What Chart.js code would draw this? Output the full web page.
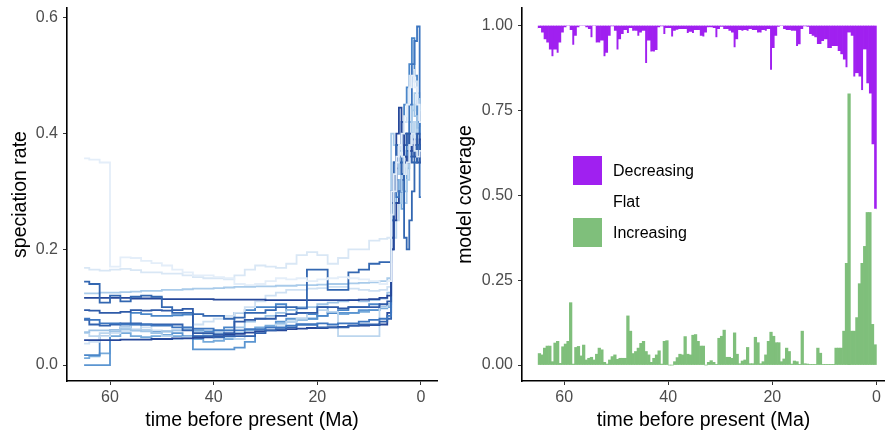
<!DOCTYPE html>
<html lang="en">
<head>
<meta charset="UTF-8">
<title>Speciation rate and model coverage</title>
<script src="https://cdn.jsdelivr.net/npm/chart.js"></script>
<style>
    body { margin: 0; background: #fff; }
    .painel { position: absolute; top: 0; }
    #legend {
        position: absolute; left: 573px; top: 155px;
        font-family: "Liberation Sans", Arial, Helvetica, sans-serif;
        font-size: 16px; color: #000;
    }
    #legend .item { height: 31px; display: flex; align-items: center; }
    #legend .box { width: 29px; height: 29px; margin-right: 11px; }
</style>
</head>
<body>
    <div class="painel" style="left:0px"><canvas id="rateChart" width="440" height="433"></canvas></div>
    <div class="painel" style="left:440px"><canvas id="coverageChart" width="445" height="433"></canvas></div>
    <div id="legend">
        <div class="item"><span class="box" style="background:#a020f0"></span>Decreasing</div>
        <div class="item"><span class="box" style="background:#ffffff"></span>Flat</div>
        <div class="item"><span class="box" style="background:#7fbf7b"></span>Increasing</div>
    </div>

<script>
    // ---- left panel: speciation rate through time (one line per posterior sample)
    const timeGrid = [65, 63, 61, 59, 57, 55, 53, 51, 49, 47, 45, 43, 41, 39, 37, 35, 33, 31, 29, 27,
        25, 23, 21, 19, 17, 15, 13, 11, 9, 7, 6, 5.5, 5, 4.5, 4, 3.5, 3, 2.5, 2, 1.5, 1, 0.5, 0];

    const rate01 = [0.357, 0.355, 0.35, 0.17, 0.186, 0.185, 0.18, 0.176, 0.172, 0.165, 0.16, 0.155, 0.155, 0.152, 0.15, 0.14, 0.138, 0.14, 0.145, 0.15,
        0.148, 0.15, 0.145, 0.148, 0.15, 0.152, 0.15, 0.148, 0.145, 0.14, 0.145, 0.3, 0.33, 0.36, 0.38, 0.4, 0.43, 0.45, 0.48, 0.5, 0.48, 0.45, 0.42];
    const rate02 = [0.168, 0.165, 0.163, 0.165, 0.166, 0.164, 0.16, 0.16, 0.158, 0.158, 0.155, 0.152, 0.15, 0.15, 0.148, 0.155, 0.165, 0.172, 0.17, 0.168,
        0.175, 0.19, 0.195, 0.19, 0.175, 0.185, 0.2, 0.2, 0.215, 0.218, 0.22, 0.26, 0.3, 0.35, 0.38, 0.36, 0.33, 0.35, 0.38, 0.4, 0.37, 0.36, 0.37];
    const rate03 = [0.144, 0.14, 0.108, 0.12, 0.11, 0.118, 0.12, 0.118, 0.1, 0.09, 0.09, 0.088, 0.085, 0.085, 0.08, 0.082, 0.09, 0.09, 0.095, 0.1,
        0.1, 0.098, 0.165, 0.165, 0.13, 0.13, 0.16, 0.165, 0.175, 0.178, 0.178, 0.3, 0.35, 0.38, 0.36, 0.33, 0.22, 0.2, 0.25, 0.3, 0.35, 0.38, 0.37];
    const rate04 = [0.116, 0.116, 0.116, 0.116, 0.116, 0.115, 0.115, 0.115, 0.114, 0.114, 0.114, 0.114, 0.114, 0.113, 0.113, 0.113, 0.113, 0.113, 0.112, 0.112,
        0.112, 0.112, 0.112, 0.112, 0.112, 0.112, 0.112, 0.113, 0.114, 0.116, 0.12, 0.2, 0.3, 0.4, 0.445, 0.4, 0.36, 0.35, 0.37, 0.38, 0.38, 0.36, 0.39];
    const rate05 = [0.124, 0.124, 0.125, 0.125, 0.126, 0.127, 0.128, 0.128, 0.13, 0.13, 0.131, 0.132, 0.132, 0.133, 0.134, 0.135, 0.135, 0.136, 0.136, 0.137,
        0.137, 0.138, 0.138, 0.139, 0.14, 0.14, 0.141, 0.142, 0.143, 0.145, 0.15, 0.4, 0.38, 0.35, 0.33, 0.3, 0.28, 0.32, 0.38, 0.44, 0.47, 0.46, 0.44];
    const rate06 = [0.095, 0.094, 0.09, 0.09, 0.092, 0.095, 0.094, 0.095, 0.094, 0.095, 0.097, 0.055, 0.055, 0.053, 0.055, 0.075, 0.078, 0.08, 0.08, 0.085,
        0.088, 0.09, 0.09, 0.1, 0.1, 0.098, 0.1, 0.1, 0.1, 0.105, 0.11, 0.28, 0.33, 0.36, 0.35, 0.33, 0.38, 0.4, 0.37, 0.36, 0.38, 0.4, 0.35];
    const rate07 = [0.08, 0.078, 0.072, 0.072, 0.07, 0.07, 0.07, 0.068, 0.068, 0.065, 0.065, 0.063, 0.063, 0.06, 0.06, 0.06, 0.062, 0.062, 0.065, 0.065,
        0.068, 0.07, 0.07, 0.072, 0.07, 0.072, 0.072, 0.075, 0.078, 0.08, 0.085, 0.25, 0.3, 0.29, 0.3, 0.33, 0.36, 0.4, 0.45, 0.52, 0.56, 0.585, 0.29];
    const rate08 = [0.078, 0.07, 0.068, 0.07, 0.072, 0.072, 0.07, 0.07, 0.07, 0.07, 0.06, 0.05, 0.05, 0.048, 0.05, 0.05, 0.05, 0.055, 0.06, 0.062,
        0.065, 0.07, 0.07, 0.065, 0.065, 0.065, 0.068, 0.07, 0.07, 0.075, 0.08, 0.22, 0.3, 0.35, 0.38, 0.42, 0.4, 0.38, 0.36, 0.35, 0.37, 0.38, 0.36];
    const rate09 = [0.043, 0.043, 0.043, 0.043, 0.044, 0.044, 0.044, 0.045, 0.045, 0.046, 0.046, 0.047, 0.048, 0.05, 0.052, 0.054, 0.056, 0.058, 0.06, 0.06,
        0.062, 0.063, 0.064, 0.064, 0.065, 0.066, 0.068, 0.068, 0.069, 0.07, 0.09, 0.2, 0.25, 0.28, 0.3, 0.32, 0.35, 0.37, 0.4, 0.39, 0.36, 0.35, 0.38];
    const rate10 = [0.057, 0.06, 0.06, 0.058, 0.062, 0.06, 0.058, 0.055, 0.058, 0.06, 0.062, 0.058, 0.05, 0.055, 0.06, 0.065, 0.075, 0.08, 0.085, 0.09,
        0.095, 0.1, 0.1, 0.105, 0.108, 0.11, 0.112, 0.11, 0.112, 0.115, 0.125, 0.3, 0.32, 0.3, 0.28, 0.32, 0.35, 0.38, 0.42, 0.45, 0.43, 0.41, 0.4];
    const rate11 = [0.055, 0.05, 0.055, 0.06, 0.065, 0.07, 0.06, 0.055, 0.05, 0.045, 0.048, 0.05, 0.052, 0.05, 0.048, 0.045, 0.05, 0.058, 0.065, 0.07,
        0.075, 0.08, 0.09, 0.095, 0.092, 0.05, 0.05, 0.05, 0.05, 0.1, 0.105, 0.2, 0.22, 0.25, 0.28, 0.3, 0.33, 0.35, 0.38, 0.4, 0.42, 0.4, 0.37];
    const rate12 = [0.037, 0.04, 0.05, 0.055, 0.06, 0.062, 0.065, 0.06, 0.058, 0.06, 0.065, 0.07, 0.075, 0.08, 0.085, 0.09, 0.1, 0.11, 0.12, 0.125,
        0.13, 0.13, 0.132, 0.133, 0.135, 0.135, 0.132, 0.13, 0.128, 0.13, 0.135, 0.28, 0.3, 0.33, 0.36, 0.4, 0.42, 0.45, 0.5, 0.51, 0.49, 0.47, 0.45];
    const rate13 = [0.017, 0.017, 0.05, 0.06, 0.065, 0.09, 0.088, 0.085, 0.085, 0.086, 0.087, 0.06, 0.058, 0.06, 0.065, 0.09, 0.095, 0.1, 0.1, 0.105,
        0.095, 0.09, 0.088, 0.085, 0.09, 0.095, 0.1, 0.1, 0.105, 0.1, 0.105, 0.3, 0.35, 0.38, 0.37, 0.4, 0.45, 0.48, 0.52, 0.565, 0.5, 0.42, 0.4];
    const rate14 = [0, 0, 0, 0.06, 0.06, 0.06, 0.06, 0.058, 0.058, 0.055, 0.05, 0.027, 0.027, 0.027, 0.027, 0.03, 0.04, 0.06, 0.065, 0.075,
        0.08, 0.08, 0.08, 0.1, 0.09, 0.09, 0.09, 0.095, 0.095, 0.1, 0.105, 0.25, 0.3, 0.34, 0.36, 0.35, 0.33, 0.36, 0.38, 0.39, 0.4, 0.38, 0.36];
    const rate15 = [0.012, 0.015, 0.02, 0.05, 0.055, 0.05, 0.048, 0.05, 0.052, 0.05, 0.048, 0.045, 0.04, 0.042, 0.045, 0.055, 0.06, 0.065, 0.068, 0.072,
        0.075, 0.078, 0.08, 0.085, 0.09, 0.088, 0.09, 0.092, 0.095, 0.098, 0.1, 0.22, 0.28, 0.32, 0.3, 0.27, 0.3, 0.34, 0.37, 0.4, 0.42, 0.4, 0.42];

    const rateSeries = [rate01, rate02, rate03, rate04, rate05, rate06, rate07, rate08,
        rate09, rate10, rate11, rate12, rate13, rate14, rate15];
    const lineColors = ['#e4eef9', '#d9e7f5', '#3367b1', '#26489a', '#a9cbea', '#2f5ba8', '#3d76c0', '#3262ae',
        '#27489a', '#9fc4e6', '#bcd6ee', '#cfe1f3', '#4a86c9', '#5b95d1', '#76aadb'];

    const rateTicks = [0, 0.2, 0.4, 0.6];
    const timeTicks = [60, 40, 20, 0];

    // ---- right panel: share of models that are decreasing / flat / increasing, 0.5 Ma bins from 65 Ma
    const binStart = 65;
    const binWidth = 0.5;
    const increasing = [0.034, 0.03, 0.05, 0.056, 0.056, 0.01, 0.065, 0.07, 0.005, 0.054, 0.062, 0.07, 0.184, 0.003, 0.052, 0.055, 0.027, 0.059, 0.015, 0.02,
        0.023, 0.015, 0.032, 0.05, 0.045, 0.008, 0.003, 0.015, 0.025, 0.03, 0.017, 0.02, 0.02, 0.02, 0.145, 0.1, 0.034, 0.04, 0.05, 0.064,
        0.07, 0.04, 0.03, 0.008, 0.02, 0.03, 0.042, 0.003, 0.07, 0.072, 0, 0, 0.01, 0.022, 0.032, 0.03, 0.084, 0.032, 0.03, 0.088,
        0.09, 0.07, 0.056, 0.056, 0, 0.008, 0.013, 0.008, 0.002, 0.079, 0.085, 0.103, 0.023, 0.023, 0.02, 0.095, 0.032, 0.004, 0.012, 0.015,
        0.052, 0.004, 0.004, 0.082, 0.066, 0.004, 0.01, 0.03, 0.07, 0.097, 0.085, 0.066, 0.066, 0.01, 0.018, 0.05, 0.04, 0.003, 0.012, 0.01,
        0.002, 0.1, 0.004, 0.003, 0.002, 0.002, 0.002, 0.05, 0.035, 0.002, 0.002, 0.002, 0.002, 0.002, 0.05, 0.05, 0.05, 0.1, 0.3, 0.8,
        0.1, 0.1, 0.14, 0.24, 0.3, 0.35, 0.45, 0.45, 0.12, 0.06];
    const decreasing = [0.007, 0.02, 0.04, 0.05, 0.07, 0.09, 0.07, 0.08, 0.05, 0.02, 0.005, 0, 0.013, 0.056, 0.03, 0.005, 0, 0, 0.005, 0.01,
        0.034, 0, 0.05, 0.05, 0.044, 0.09, 0.08, 0.03, 0.002, 0.015, 0.07, 0.04, 0.025, 0.013, 0.022, 0.007, 0.015, 0.015, 0.03, 0.02,
        0.015, 0.11, 0.044, 0.076, 0.076, 0.072, 0.005, 0.002, 0.025, 0.007, 0.007, 0.032, 0.015, 0.012, 0.01, 0.01, 0.01, 0.022, 0.018, 0.022,
        0.013, 0.013, 0.03, 0.032, 0.02, 0.005, 0.005, 0.007, 0.034, 0.01, 0.003, 0.01, 0.01, 0.015, 0.02, 0.064, 0.04, 0.013, 0.015, 0.013,
        0.015, 0.01, 0.013, 0.013, 0.02, 0.02, 0.013, 0.015, 0.01, 0.13, 0.066, 0.03, 0.003, 0, 0.01, 0.013, 0.013, 0.015, 0.015, 0.06,
        0.055, 0.01, 0.002, 0.003, 0.025, 0.03, 0.034, 0.054, 0.054, 0.045, 0.04, 0.066, 0.066, 0.06, 0.06, 0.075, 0.084, 0.1, 0.123, 0.02,
        0.03, 0.15, 0.14, 0.15, 0.19, 0.07, 0.17, 0.2, 0.35, 0.54];
    const coverageTicks = [0, 0.25, 0.5, 0.75, 1];

    const fonte = '"Liberation Sans", Arial, Helvetica, sans-serif';

    function eixoFixo(ticks) {
        return function (scale) {
            scale.ticks = ticks.map(v => ({ value: v }));
        };
    }

    // tamanho fixo do eixo, sem o espaco extra que o Chart.js reserva para os rotulos
    function larguraFixa(w) {
        return function (scale) {
            scale.width = w;
            scale.paddingTop = 0;
            scale.paddingBottom = 0;
        };
    }
    function alturaFixa(h) {
        return function (scale) {
            scale.height = h;
            scale.paddingLeft = 0;
            scale.paddingRight = 0;
        };
    }

    // ---- left chart
    const rateDatasets = rateSeries.map((serie, k) => ({
        data: timeGrid.map((t, i) => ({ x: t, y: serie[i] })),
        borderColor: lineColors[k],
        borderWidth: 1.8,
        pointRadius: 0,
        stepped: 'middle',
        fill: false
    }));

    new Chart(document.getElementById('rateChart'), {
        type: 'line',
        data: { datasets: rateDatasets },
        options: {
            responsive: false,
            animation: false,
            layout: { padding: { top: 8, right: 3, left: 0, bottom: 0 } },
            plugins: { legend: { display: false }, tooltip: { enabled: false } },
            scales: {
                x: {
                    type: 'linear', reverse: true, min: -3.1, max: 68.3,
                    afterBuildTicks: eixoFixo(timeTicks),
                    afterFit: alturaFixa(52),
                    grid: { display: true, drawOnChartArea: false, drawTicks: true, tickLength: 4, color: '#333333' },
                    border: { display: true, color: '#000000', width: 1.6 },
                    ticks: { color: '#4d4d4d', font: { size: 16, family: fonte }, padding: 3 },
                    title: { display: true, text: 'time before present (Ma)', color: '#000000', font: { size: 19.5, family: fonte }, padding: { top: 0, bottom: 1 } }
                },
                y: {
                    min: -0.0276, max: 0.617,
                    afterBuildTicks: eixoFixo(rateTicks),
                    afterFit: larguraFixa(67),
                    grid: { display: true, drawOnChartArea: false, drawTicks: true, tickLength: 4, color: '#333333' },
                    border: { display: true, color: '#000000', width: 1.6 },
                    ticks: { color: '#4d4d4d', font: { size: 16, family: fonte }, padding: 5, callback: v => v.toFixed(1) },
                    title: { display: true, text: 'speciation rate', color: '#000000', font: { size: 19.5, family: fonte }, padding: { top: 9, bottom: 0 } }
                }
            }
        }
    });

    // ---- right chart
    const binCenters = increasing.map((_, i) => binStart - binWidth * i - binWidth / 2);
    const flat = increasing.map((v, i) => 1 - v - decreasing[i]);

    function barras(valores, cor, nome) {
        return {
            label: nome,
            data: binCenters.map((t, i) => ({ x: t, y: valores[i] })),
            backgroundColor: cor,
            borderWidth: 0,
            barPercentage: 1,
            categoryPercentage: 1
        };
    }

    new Chart(document.getElementById('coverageChart'), {
        type: 'bar',
        data: {
            datasets: [
                barras(increasing, '#7fbf7b', 'Increasing'),
                barras(flat, '#ffffff', 'Flat'),
                barras(decreasing, '#a020f0', 'Decreasing')
            ]
        },
        options: {
            responsive: false,
            animation: false,
            layout: { padding: { top: 8, right: 0, left: 0, bottom: 0 } },
            plugins: { legend: { display: false }, tooltip: { enabled: false } },
            scales: {
                x: {
                    type: 'linear', reverse: true, min: -1.65, max: 68.1, stacked: true, offset: false,
                    afterBuildTicks: eixoFixo(timeTicks),
                    afterFit: alturaFixa(52),
                    grid: { display: true, offset: false, drawOnChartArea: false, drawTicks: true, tickLength: 4, color: '#333333' },
                    border: { display: true, color: '#000000', width: 1.6 },
                    ticks: { color: '#4d4d4d', font: { size: 16, family: fonte }, padding: 3 },
                    title: { display: true, text: 'time before present (Ma)', color: '#000000', font: { size: 19.5, family: fonte }, padding: { top: 0, bottom: 1 } }
                },
                y: {
                    min: -0.047, max: 1.053, stacked: true,
                    afterBuildTicks: eixoFixo(coverageTicks),
                    afterFit: larguraFixa(82),
                    grid: { display: true, drawOnChartArea: false, drawTicks: true, tickLength: 4, color: '#333333' },
                    border: { display: true, color: '#000000', width: 1.6 },
                    ticks: { color: '#4d4d4d', font: { size: 16, family: fonte }, padding: 5, callback: v => v.toFixed(2) },
                    title: { display: true, text: 'model coverage', color: '#000000', font: { size: 19.5, family: fonte }, padding: { top: 14, bottom: 0 } }
                }
            }
        }
    });
</script>
</body>
</html>
